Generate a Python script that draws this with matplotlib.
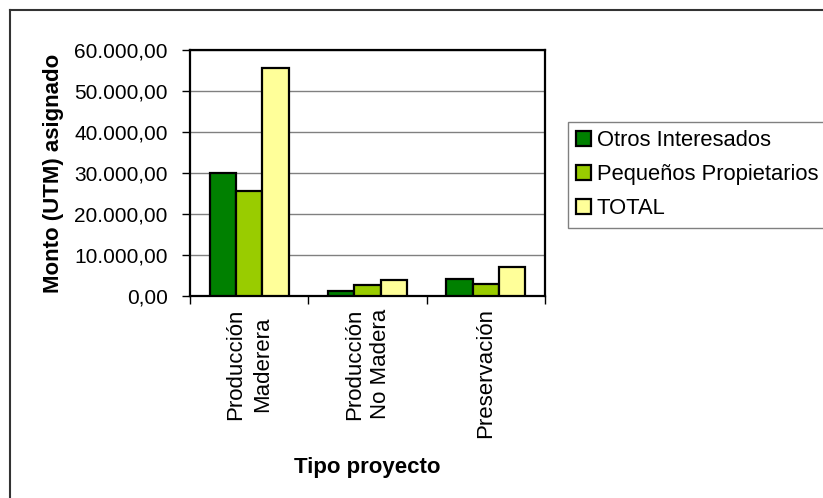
import numpy as np
import matplotlib; matplotlib.use("Agg")
import matplotlib.pyplot as plt
from matplotlib.patches import Patch
from matplotlib.ticker import FuncFormatter

plt.rcParams["font.family"] = ["Liberation Sans", "DejaVu Sans"]

categories = ["Producción\nMaderera", "Producción\nNo Madera", "Preservación"]
series_names = ["Otros Interesados", "Pequeños Propietarios", "TOTAL"]
otros = [30000, 1300, 4050]
pequenos = [25500, 2700, 2950]
total = [55500, 4000, 7000]
colors = ["#008000", "#99CC00", "#FFFF99"]
yticks = [0, 10000, 20000, 30000, 40000, 50000, 60000]

W, H = 823, 498
FS = 16
fig = plt.figure(figsize=(W/100, H/100), dpi=100)
# axes box in pixels: left 190, right 545, top 50, bottom 296
ax = fig.add_axes([190/W, 1-296/H, (545-190)/W, (296-50)/H])

x = np.arange(len(categories))
bw = 0.222
for k, (vals, c) in enumerate(zip([otros, pequenos, total], colors)):
    ax.bar(x + (k-1)*bw, vals, bw, color=c, edgecolor="black", lw=1.6, zorder=3)

ax.set_xlim(-0.5, 2.5); ax.set_ylim(0, 60000)
ax.set_yticks(yticks)
ax.yaxis.set_major_formatter(FuncFormatter(
    lambda v, p: f"{v:,.2f}".replace(",", "X").replace(".", ",").replace("X", ".")))
ax.grid(axis="y", color="#808080", lw=1, zorder=0)
for s in ax.spines.values():
    s.set_color("black"); s.set_linewidth(1.6)
ax.tick_params(axis="y", length=6, width=1, pad=10, labelsize=15)

# ticks at category boundaries, labels centered via minor ticks
ax.set_xticks([-0.5, 0.5, 1.5, 2.5]); ax.set_xticklabels([])
ax.set_xticks(x, minor=True)
ax.set_xticklabels(categories, minor=True, rotation=90, va="top", ha="center",
                   multialignment="center", fontsize=FS, linespacing=1.35)
ax.tick_params(axis="x", which="major", length=6, width=1)
ax.tick_params(axis="x", which="minor", length=0, pad=9)

ax.set_xlabel("Tipo proyecto", fontsize=FS, fontweight="bold")
ax.xaxis.set_label_coords(0.5, -(457-296)/246)
ax.set_ylabel("Monto (UTM) asignado", fontsize=FS, fontweight="bold")
ax.yaxis.set_label_coords((64-190)/355, 0.5)

handles = [Patch(facecolor=c, edgecolor="black", lw=1.6) for c in colors]
leg = fig.legend(handles, series_names, loc="upper left",
                 bbox_to_anchor=(567.7/W, 1-121.7/H), borderaxespad=0,
                 fontsize=15.8, handlelength=0.7, handleheight=0.7,
                 handletextpad=0.25, labelspacing=0.6, borderpad=0.38,
                 fancybox=False, framealpha=1)
leg.get_frame().set_edgecolor("#808080"); leg.get_frame().set_linewidth(1)

# outer chart border (only left and top visible)
fig.add_artist(plt.Line2D([10/W, 10/W], [0, 1-10/H], color="#333333", lw=1.5))
fig.add_artist(plt.Line2D([10/W, 1], [1-10/H, 1-10/H], color="#333333", lw=1.5))

fig.savefig("out.png", dpi=100)
